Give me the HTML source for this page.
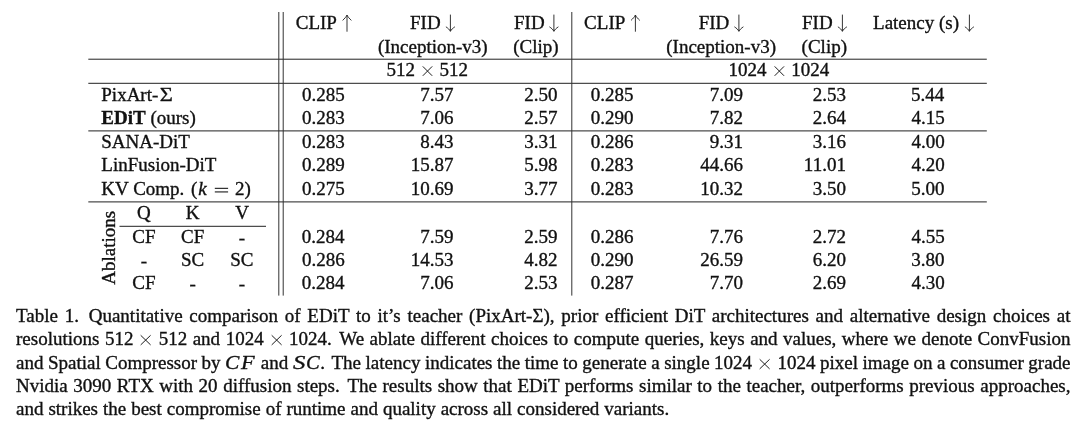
<!DOCTYPE html>
<html><head><meta charset="utf-8"><style>
html,body{margin:0;padding:0;background:#fff;width:1080px;height:426px;overflow:hidden;position:relative}
svg.main{position:absolute;left:0;top:0;will-change:transform}
svg.main text{font-family:"Liberation Serif",serif;font-size:19px;fill:#111;stroke:#111;stroke-width:0.35px}
.cl{will-change:transform;position:absolute;left:15.5px;width:1054.5px;font-family:"Liberation Serif",serif;font-size:19px;line-height:19px;color:#111;white-space:nowrap;-webkit-text-stroke:0.35px #111}
.cl.j{text-align:justify;text-align-last:justify;white-space:nowrap}
.tm{display:inline-block;width:25.3px;height:0;vertical-align:baseline;position:relative}
.tm svg{position:absolute;left:0;top:-19px;overflow:visible}
.ss{display:inline-block;width:2.4px}
.t1{display:inline-block;width:3px}
.mi{display:inline-block;font-style:italic}
.mi b{display:inline-block;font-weight:normal;transform-origin:0 0}
</style></head><body>
<svg class="main" width="1080" height="426" viewBox="0 0 1080 426">
<rect x="88.3" y="58.70" width="898.5" height="1.0" fill="#222"/>
<rect x="88.3" y="82.80" width="898.5" height="1.0" fill="#222"/>
<rect x="88.3" y="130.40" width="898.5" height="1.0" fill="#222"/>
<rect x="88.3" y="201.40" width="898.5" height="1.0" fill="#222"/>
<rect x="119.5" y="225.80" width="146.5" height="1.0" fill="#222"/>
<rect x="278.30" y="12" width="1.0" height="283.6" fill="#333"/>
<rect x="282.70" y="12" width="1.0" height="283.6" fill="#333"/>
<rect x="571.30" y="12" width="1.0" height="283.6" fill="#333"/>
<rect x="214.8" y="187.80" width="13.3" height="1.05" fill="#111"/>
<rect x="214.8" y="191.40" width="13.3" height="1.05" fill="#111"/>
<path d="M347.0 31.7 V15.6" stroke="#111" stroke-width="0.85" fill="none"/><path d="M342.6 20.4 C344.6 18.6 346.2 16.8 347.0 15.0 C347.8 16.8 349.4 18.6 351.4 20.4" stroke="#111" stroke-width="0.85" fill="none"/>
<path d="M450.4 14.6 V30.799999999999997" stroke="#111" stroke-width="0.85" fill="none"/><path d="M445.9 26.799999999999997 C447.9 28.099999999999998 449.59999999999997 29.599999999999998 450.4 31.4 C451.2 29.599999999999998 452.9 28.099999999999998 454.9 26.799999999999997" stroke="#111" stroke-width="0.85" fill="none"/>
<path d="M553.9 14.6 V30.799999999999997" stroke="#111" stroke-width="0.85" fill="none"/><path d="M549.4 26.799999999999997 C551.4 28.099999999999998 553.1 29.599999999999998 553.9 31.4 C554.6999999999999 29.599999999999998 556.4 28.099999999999998 558.4 26.799999999999997" stroke="#111" stroke-width="0.85" fill="none"/>
<path d="M635.4 31.7 V15.6" stroke="#111" stroke-width="0.85" fill="none"/><path d="M631.0 20.4 C633.0 18.6 634.6 16.8 635.4 15.0 C636.1999999999999 16.8 637.8 18.6 639.8 20.4" stroke="#111" stroke-width="0.85" fill="none"/>
<path d="M738.9 14.6 V30.799999999999997" stroke="#111" stroke-width="0.85" fill="none"/><path d="M734.4 26.799999999999997 C736.4 28.099999999999998 738.1 29.599999999999998 738.9 31.4 C739.6999999999999 29.599999999999998 741.4 28.099999999999998 743.4 26.799999999999997" stroke="#111" stroke-width="0.85" fill="none"/>
<path d="M842.4 14.6 V30.799999999999997" stroke="#111" stroke-width="0.85" fill="none"/><path d="M837.9 26.799999999999997 C839.9 28.099999999999998 841.6 29.599999999999998 842.4 31.4 C843.1999999999999 29.599999999999998 844.9 28.099999999999998 846.9 26.799999999999997" stroke="#111" stroke-width="0.85" fill="none"/>
<path d="M969.4 14.6 V30.799999999999997" stroke="#111" stroke-width="0.85" fill="none"/><path d="M964.9 26.799999999999997 C966.9 28.099999999999998 968.6 29.599999999999998 969.4 31.4 C970.1999999999999 29.599999999999998 971.9 28.099999999999998 973.9 26.799999999999997" stroke="#111" stroke-width="0.85" fill="none"/>
<path d="M422.8 66.39999999999999 L432.2 75.8 M432.2 66.39999999999999 L422.8 75.8" stroke="#111" stroke-width="0.95" fill="none"/>
<path d="M774.65 66.39999999999999 L784.0500000000001 75.8 M784.0500000000001 66.39999999999999 L774.65 75.8" stroke="#111" stroke-width="0.95" fill="none"/>
<text x="302.08" y="100.5">0.285</text>
<text x="420.25" y="100.5">7.57</text>
<text x="524.25" y="100.5">2.50</text>
<text x="590.78" y="100.5">0.285</text>
<text x="709.65" y="100.5">7.09</text>
<text x="812.65" y="100.5">2.53</text>
<text x="910.97" y="100.5">5.44</text>
<text x="302.08" y="124.0">0.283</text>
<text x="420.25" y="124.0">7.06</text>
<text x="524.25" y="124.0">2.57</text>
<text x="590.77" y="124.0">0.290</text>
<text x="709.65" y="124.0">7.82</text>
<text x="812.65" y="124.0">2.64</text>
<text x="911.56" y="124.0">4.15</text>
<text x="302.08" y="148.0">0.283</text>
<text x="420.25" y="148.0">8.43</text>
<text x="524.25" y="148.0">3.31</text>
<text x="590.70" y="148.0">0.286</text>
<text x="709.65" y="148.0">9.31</text>
<text x="812.65" y="148.0">3.16</text>
<text x="911.55" y="148.0">4.00</text>
<text x="302.10" y="171.3">0.289</text>
<text x="410.75" y="171.3">15.87</text>
<text x="524.25" y="171.3">5.98</text>
<text x="590.78" y="171.3">0.283</text>
<text x="700.15" y="171.3">44.66</text>
<text x="803.86" y="171.3">11.01</text>
<text x="911.55" y="171.3">4.20</text>
<text x="302.08" y="194.7">0.275</text>
<text x="410.75" y="194.7">10.69</text>
<text x="524.25" y="194.7">3.77</text>
<text x="590.78" y="194.7">0.283</text>
<text x="700.15" y="194.7">10.32</text>
<text x="812.65" y="194.7">3.50</text>
<text x="911.18" y="194.7">5.00</text>
<text x="301.86" y="242.8">0.284</text>
<text x="420.25" y="242.8">7.59</text>
<text x="524.25" y="242.8">2.59</text>
<text x="590.70" y="242.8">0.286</text>
<text x="709.65" y="242.8">7.76</text>
<text x="812.65" y="242.8">2.72</text>
<text x="911.56" y="242.8">4.55</text>
<text x="302.00" y="266.0">0.286</text>
<text x="410.75" y="266.0">14.53</text>
<text x="524.25" y="266.0">4.82</text>
<text x="590.77" y="266.0">0.290</text>
<text x="700.15" y="266.0">26.59</text>
<text x="812.65" y="266.0">6.20</text>
<text x="911.28" y="266.0">3.80</text>
<text x="301.86" y="289.3">0.284</text>
<text x="420.25" y="289.3">7.06</text>
<text x="524.25" y="289.3">2.53</text>
<text x="590.69" y="289.3">0.287</text>
<text x="709.65" y="289.3">7.70</text>
<text x="812.65" y="289.3">2.69</text>
<text x="911.55" y="289.3">4.30</text>
<text x="101.30" y="100.5">PixArt-</text>
<text transform="translate(159.7 100.5) scale(1.186 1)" style="stroke-width:0.3px">Σ</text>
<text x="101.3" y="124.0"><tspan font-weight="bold">EDiT</tspan> (ours)</text>
<text x="101.30" y="148.0">SANA-DiT</text>
<text x="101.30" y="171.3">LinFusion-DiT</text>
<text x="101.30" y="194.7">KV Comp.</text>
<text x="190.97" y="194.7">(</text>
<text x="198.35" y="194.7" font-style="italic">k</text>
<text x="235.07" y="194.7">2</text>
<text x="244.61" y="194.7">)</text>
<text x="136.91" y="219.0">Q</text>
<text x="185.66" y="219.0">K</text>
<text x="235.14" y="219.0">V</text>
<text x="132.33" y="242.8">CF</text>
<text x="181.03" y="242.8">CF</text>
<text x="238.83" y="243.70000000000002">-</text>
<text x="140.83" y="266.9">-</text>
<text x="180.97" y="266.0">SC</text>
<text x="230.27" y="266.0">SC</text>
<text x="132.33" y="289.3">CF</text>
<text x="189.53" y="290.2">-</text>
<text x="238.83" y="290.2">-</text>
<text transform="translate(115.0 247.8) rotate(-90)" text-anchor="middle">Ablations</text>
<text x="295.72" y="28.6">CLIP</text>
<text x="410.05" y="28.6">FID</text>
<text x="377.88" y="53.0">(Inception-v3)</text>
<text x="514.05" y="28.6">FID</text>
<text x="513.31" y="53.0">(Clip)</text>
<text x="584.12" y="28.6">CLIP</text>
<text x="698.65" y="28.6">FID</text>
<text x="666.28" y="53.0">(Inception-v3)</text>
<text x="802.05" y="28.6">FID</text>
<text x="801.61" y="53.0">(Clip)</text>
<text x="873.05" y="28.6">Latency (s)</text>
<text x="386.40" y="76.0">512</text>
<text x="439.60" y="76.0">512</text>
<text x="728.53" y="76.0">1024</text>
<text x="791.13" y="76.0">1024</text>
</svg>
<div class="cl j" style="top:305.9px;">Table 1.<span class="t1"></span> Quantitative comparison of EDiT to it’s teacher (PixArt-Σ), prior efficient DiT architectures and alternative design choices at</div>
<div class="cl j" style="top:329.2px;">resolutions 512<span class="tm"><svg width="25.3" height="19" viewBox="0 0 25.3 19"><path d="M7.7 9.4 L17.6 19.0 M17.6 9.4 L7.7 19.0" stroke="#111" stroke-width="0.95" fill="none" transform="translate(0 -0.1)"/></svg></span>512 and 1024<span class="tm"><svg width="25.3" height="19" viewBox="0 0 25.3 19"><path d="M7.7 9.4 L17.6 19.0 M17.6 9.4 L7.7 19.0" stroke="#111" stroke-width="0.95" fill="none" transform="translate(0 -0.1)"/></svg></span>1024.<span class="ss"></span> We ablate different choices to compute queries, keys and values, where we denote ConvFusion</div>
<div class="cl j" style="top:352.5px;word-spacing:-0.3px;">and Spatial Compressor by <i class="mi" style="width:16.3px"><b style="transform:scaleX(1.127)">C</b></i><i class="mi" style="width:14.8px"><b style="transform:scaleX(1.17)">F</b></i> and <i class="mi" style="width:13.1px"><b style="transform:scaleX(1.3)">S</b></i><i class="mi" style="width:14.35px"><b style="transform:scaleX(1.08)">C</b></i>.<span class="ss"></span> The latency indicates the time to generate a single 1024<span class="tm"><svg width="25.3" height="19" viewBox="0 0 25.3 19"><path d="M7.7 9.4 L17.6 19.0 M17.6 9.4 L7.7 19.0" stroke="#111" stroke-width="0.95" fill="none" transform="translate(0 -0.1)"/></svg></span>1024 pixel image on a consumer grade</div>
<div class="cl j" style="top:375.8px;">Nvidia 3090 RTX with 20 diffusion steps.<span class="ss"></span> The results show that EDiT performs similar to the teacher, outperforms previous approaches,</div>
<div class="cl" style="top:399.1px;word-spacing:0.22px;">and strikes the best compromise of runtime and quality across all considered variants.</div>
</body></html>
